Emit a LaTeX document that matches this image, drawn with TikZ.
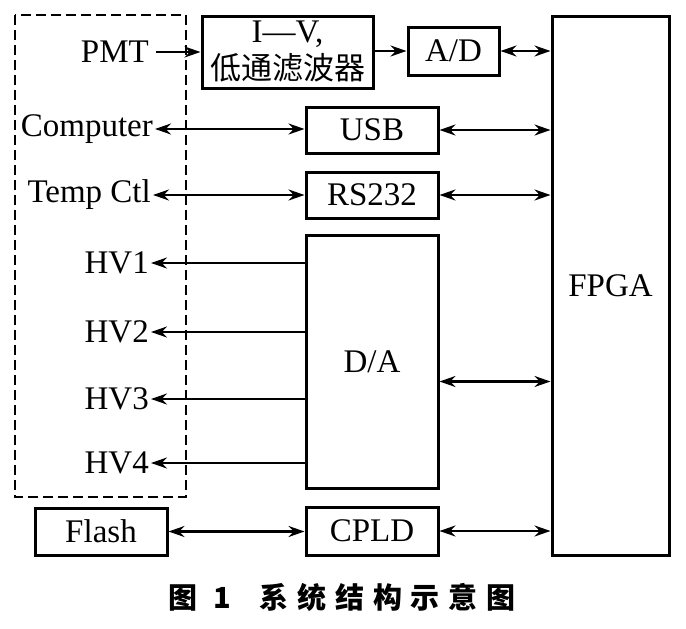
\documentclass[tikz,border=0pt]{standalone}
\usepackage{fontspec}
\setmainfont{Liberation Serif}
\newfontfamily\cjk{Noto Sans CJK SC}
\newfontfamily\cjkcap{Noto Sans CJK SC}[LetterSpace=30]

\usetikzlibrary{arrows.meta,positioning}

\begin{document}
\begin{tikzpicture}[x=1pt,y=-1pt,
        box/.style={
          draw,
          line width=3pt,
          minimum width=132pt,
          inner sep=0pt,
          font=\fontsize{33}{36}\selectfont
          },
        lbl/.style={
          anchor=east,
          inner sep=0pt,
          font=\fontsize{33}{36}\selectfont
          },
        link/.style={line width=2.3pt},
        >={Stealth[length=16pt,width=11pt]}
        ]
        \useasboundingbox (0,0) rectangle (686,629);
        % blocks
        \node[box,minimum width=171pt,minimum height=72pt,align=center] (iv) at (287.5,52) {I—V,\\[1pt]{\cjk\fontsize{31}{33}\selectfont 低通滤波器}};
        \node[box,minimum width=91pt,minimum height=48pt] (ad) at (453.5,51) {A/D};
        \node[box,minimum width=117pt,minimum height=539pt] (fpga) at (610.5,285.5) {FPGA};
        \node[box,minimum height=46pt] (usb) at (372,130) {USB};
        \node[box,minimum height=46pt] (rs) at (372,195) {RS232};
        \node[box,minimum height=253pt] (da) at (372,361.5) {D/A};
        \node[box,minimum height=48pt] (cpld) at (372,531) {CPLD};
        \node[box,minimum height=47pt] (flash) at (101,531.5) {Flash};
        % host side
        \draw[line width=2.6pt,dash pattern=on 10pt off 5pt] (15,15) rectangle (186,497);
        \node[lbl] (pmt) at (149,52) {PMT};
        \node[lbl] (comp) at (153,129) {Computer};
        \node[lbl] (temp) at (151,195) {Temp Ctl};
        \foreach \hv/\hy in {1/263,2/332,3/399,4/463}
          \node[lbl] (hv\hv) at (149,\hy) {HV\hv};
        % links
        \draw[link,->,shorten <=7pt] (pmt.east) -- (pmt.east -| iv.west);
        \draw[link,->] (iv.east |- ad) -- (ad.west);
        \draw[link,<->] (ad.east) -- (ad.east -| fpga.west);
        \draw[link,<->,shorten <=2pt] (comp.east) -- (comp.east -| usb.west);
        \draw[link,<->] (usb.east) -- (usb.east -| fpga.west);
        \draw[link,<->,shorten <=2pt] (temp.east) -- (temp.east -| rs.west);
        \draw[link,<->] (rs.east) -- (rs.east -| fpga.west);
        \foreach \hv in {1,2,...,4}
          \draw[link,->,shorten >=2pt] (hv\hv.east -| da.west) -- (hv\hv.east);
        \draw[link,<->] ([yshift=-20pt]da.east) -- ([yshift=-20pt]da.east -| fpga.west);
        \draw[link,<->] (flash.east) -- (flash.east -| cpld.west);
        \draw[link,<->] (cpld.east) -- (cpld.east -| fpga.west);
        % caption
        \node[font=\cjkcap\bfseries\fontsize{29}{31}\selectfont] (cap) at (342,597) {图 1\quad 系统结构示意图};
\end{tikzpicture}
\end{document}
